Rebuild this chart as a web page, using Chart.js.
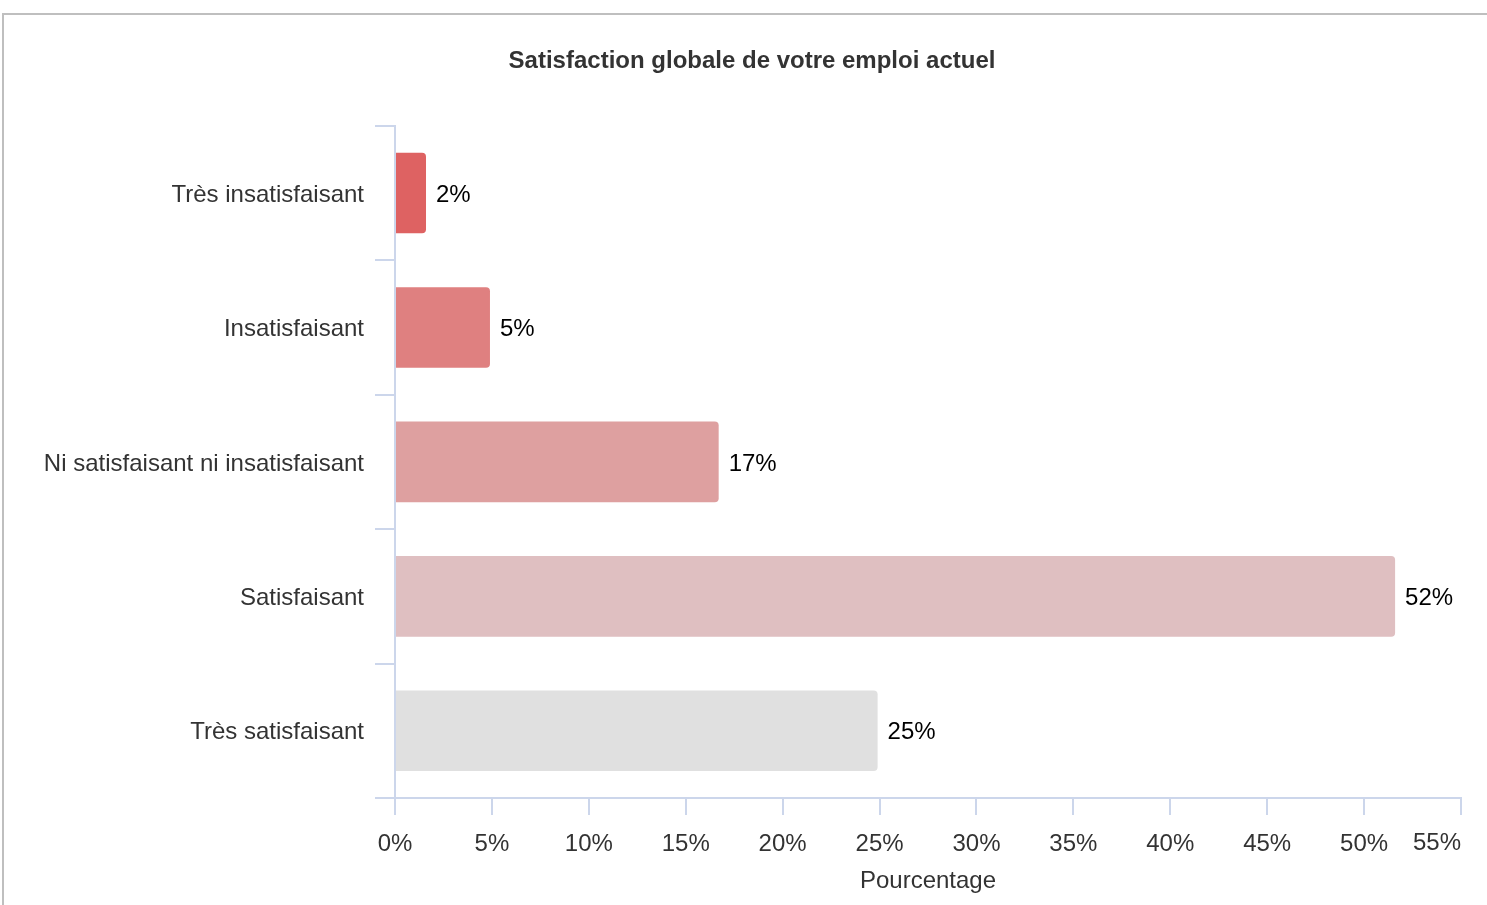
<!DOCTYPE html>
<html>
<head>
<meta charset="utf-8">
<script src="https://cdn.jsdelivr.net/npm/chart.js@4.4.1/dist/chart.umd.min.js"></script>
<style>
  body { margin: 0; background: #fff; overflow: hidden; }
  #frame {
    position: absolute; left: 2px; top: 13px; width: 1600px; height: 1000px;
    border: 2px solid #bfbfbf; box-sizing: border-box;
  }
  #wrap { position: absolute; left: 0; top: 0; width: 1487px; height: 905px; }
</style>
</head>
<body>
<div id="frame"></div>
<div id="wrap"><canvas id="chart"></canvas></div>
<script>
const categories = [
  "Très insatisfaisant",
  "Insatisfaisant",
  "Ni satisfaisant ni insatisfaisant",
  "Satisfaisant",
  "Très satisfaisant"
];
const percentages = [1.6, 4.9, 16.7, 51.6, 24.9];
const barColors = ["#de6262", "#df8080", "#dea0a0", "#dfbfc1", "#e0e0e0"];
const xTicks = [0, 5, 10, 15, 20, 25, 30, 35, 40, 45, 50, 55];

const axisColor = "#ccd6eb";
const fontFamily = "'Liberation Sans', Arial, sans-serif";

// value labels to the right of each bar
const barLabels = {
  id: "barLabels",
  afterDatasetsDraw(chart) {
    const ctx = chart.ctx;
    const meta = chart.getDatasetMeta(0);
    ctx.save();
    ctx.font = "24px " + fontFamily;
    ctx.fillStyle = "#000";
    ctx.textAlign = "left";
    ctx.textBaseline = "middle";
    meta.data.forEach((bar, i) => {
      ctx.fillText(Math.round(percentages[i]) + "%", bar.x + 10, bar.y + 2);
    });
    ctx.restore();
  }
};

// last x tick label is pulled inside the plot, right-aligned on its tick
const lastTick = {
  id: "lastTick",
  afterDraw(chart) {
    const x = chart.scales.x;
    const v = xTicks[xTicks.length - 1];
    const ctx = chart.ctx;
    ctx.save();
    ctx.font = "24px " + fontFamily;
    ctx.fillStyle = "#333";
    ctx.textAlign = "right";
    ctx.textBaseline = "middle";
    ctx.fillText(v + "%", x.getPixelForValue(v), 843);
    ctx.restore();
  }
};

new Chart(document.getElementById("chart"), {
  type: "bar",
  data: {
    labels: categories,
    datasets: [{
      data: percentages,
      backgroundColor: barColors,
      borderRadius: 4,
      borderSkipped: "start",
      barPercentage: 0.6,
      categoryPercentage: 1
    }]
  },
  options: {
    indexAxis: "y",
    responsive: true,
    maintainAspectRatio: false,
    animation: false,
    layout: { padding: { left: 17, right: 0, top: 0, bottom: 0 } },
    plugins: {
      legend: { display: false },
      tooltip: { enabled: false },
      title: {
        display: true,
        text: "Satisfaction globale de votre emploi actuel",
        color: "#333",
        font: { family: fontFamily, size: 24, weight: "bold" },
        padding: { top: 47, bottom: 50 }
      }
    },
    scales: {
      x: {
        min: 0,
        max: 55,
        afterBuildTicks(scale) {
          scale.ticks = xTicks.map(v => ({ value: v }));
        },
        afterFit(scale) {
          scale.height = 905 - 798;
          scale.paddingLeft = 0;
          scale.paddingRight = 26;
        },
        border: { color: axisColor, width: 2 },
        grid: { drawOnChartArea: false, color: axisColor, lineWidth: 2, tickLength: 17 },
        ticks: {
          color: ctx => ctx.index === xTicks.length - 1 ? "rgba(0,0,0,0)" : "#333",
          font: { family: fontFamily, size: 24 },
          padding: 15,
          maxRotation: 0,
          callback: v => v + "%"
        },
        title: {
          display: true,
          text: "Pourcentage",
          color: "#333",
          font: { family: fontFamily, size: 24 },
          padding: { top: 0, bottom: 9 }
        }
      },
      y: {
        afterFit(scale) { scale.width = 395 - 17; },
        border: { color: axisColor, width: 2 },
        grid: { drawOnChartArea: false, color: axisColor, lineWidth: 2, tickLength: 20, offset: true },
        ticks: {
          color: "#333",
          font: { family: fontFamily, size: 24 },
          padding: 11,
          labelOffset: 2
        }
      }
    }
  },
  plugins: [barLabels, lastTick]
});
</script>
</body>
</html>
